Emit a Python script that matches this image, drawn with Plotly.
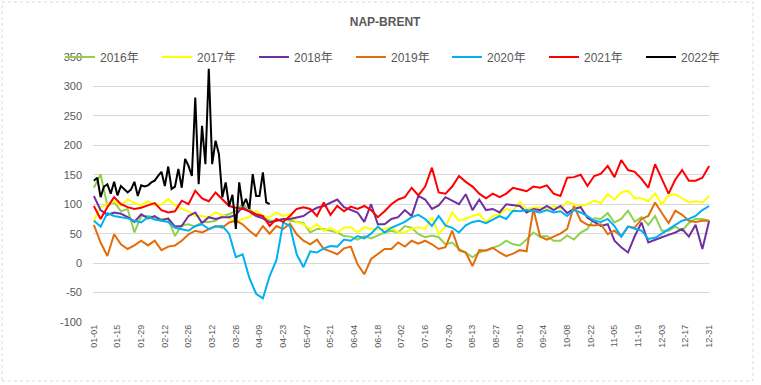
import pandas as pd
import plotly.graph_objects as go

# ---------------- data ----------------
# x positions: month-day sampled every 4 days (day 0 .. 364), shown on a non-leap calendar
DATES_4D = pd.date_range("2021-01-01", "2021-12-31", freq="4D")
# 2022 sampled every 2 days (only to mid-April)
DATES_2022 = pd.date_range("2021-01-01", periods=53, freq="2D")

TICK_LABELS = ["01-01", "01-15", "01-29", "02-12", "02-26", "03-12", "03-26", "04-09", "04-23",
               "05-07", "05-21", "06-04", "06-18", "07-02", "07-16", "07-30", "08-13", "08-27",
               "09-10", "09-24", "10-08", "10-22", "11-05", "11-19", "12-03", "12-17", "12-31"]
Y_TICKS = [-100, -50, 0, 50, 100, 150, 200, 250, 300, 350]

Y2016 = [128, 151, 97, 104, 88, 92, 52, 80, 80, 78,
         75, 75, 46, 64, 66, 62, 70, 70, 72, 80,
         83, 89, 100, 92, 82, 78, 72, 72, 75, 72,
         70, 68, 52, 58, 58, 55, 52, 46, 45, 40,
         46, 42, 47, 52, 55, 52, 63, 60, 49, 44,
         47, 44, 32, 35, 24, 18, 10, 18, 22, 26,
         30, 38, 32, 30, 40, 52, 45, 46, 38, 38,
         47, 40, 52, 58, 76, 75, 85, 69, 75, 89,
         70, 78, 65, 80, 55, 55, 62, 55, 68, 75,
         75, 72]
Y2017 = [72, 95, 100, 105, 98, 108, 102, 98, 105, 98,
         100, 109, 98, 92, 88, 80, 80, 78, 86, 82,
         77, 69, 75, 78, 89, 80, 78, 86, 80, 83,
         69, 66, 58, 66, 55, 60, 52, 60, 61, 52,
         61, 58, 57, 58, 61, 52, 52, 58, 61, 58,
         78, 50, 62, 86, 72, 75, 80, 83, 70, 80,
         83, 92, 88, 104, 92, 94, 95, 92, 97, 92,
         104, 100, 97, 100, 106, 102, 117, 108, 120, 123,
         110, 110, 105, 118, 100, 115, 117, 110, 103, 105,
         103, 114]
Y2018 = [114, 90, 82, 86, 84, 78, 70, 83, 76, 80,
         72, 76, 62, 63, 80, 86, 68, 78, 75, 78,
         78, 82, 95, 88, 80, 76, 69, 72, 75, 75,
         78, 80, 88, 94, 97, 103, 108, 95, 90, 86,
         70, 100, 66, 66, 75, 78, 90, 80, 114, 108,
         92, 98, 112, 106, 100, 117, 90, 108, 90, 92,
         86, 100, 98, 97, 86, 92, 90, 97, 90, 97,
         85, 92, 95, 77, 70, 63, 66, 38, 27, 18,
         46, 69, 35, 40, 44, 48, 52, 58, 45, 65,
         24, 72]
Y2019 = [65, 35, 12, 49, 32, 24, 30, 38, 30, 38,
         22, 28, 30, 38, 49, 55, 52, 58, 63, 60,
         69, 72, 66, 55, 46, 63, 50, 63, 58, 67,
         49, 38, 32, 40, 24, 20, 15, 25, 28, -2,
         -19, 7, 15, 24, 24, 35, 28, 38, 33, 38,
         32, 24, 27, 55, 22, 18, -5, 22, 21, 26,
         18, 12, 16, 22, 20, 92, 45, 40, 45, 50,
         58, 97, 72, 65, 64, 66, 49, 55, 45, 62,
         60, 75, 80, 103, 85, 68, 89, 82, 72, 70,
         72, 72]
Y2020 = [72, 62, 85, 80, 78, 76, 72, 69, 78, 74,
         72, 70, 60, 58, 55, 63, 66, 58, 62, 63,
         50, 10, 15, -25, -52, -60, -22, 5, 69, 63,
         15, -7, 20, 18, 25, 29, 28, 40, 38, 46,
         42, 50, 62, 52, 60, 65, 70, 78, 82, 75,
         63, 80, 64, 60, 52, 64, 70, 72, 68, 74,
         80, 75, 89, 88, 90, 88, 86, 90, 86, 88,
         80, 90, 86, 80, 72, 70, 75, 63, 45, 62,
         58, 55, 41, 43, 50, 58, 65, 72, 75, 80,
         90, 97]
Y2021 = [97, 75, 95, 112, 100, 95, 92, 94, 98, 102,
         90, 86, 88, 106, 100, 123, 110, 105, 120, 108,
         97, 94, 92, 88, 83, 80, 63, 75, 70, 80,
         92, 95, 92, 80, 103, 82, 97, 88, 96, 92,
         97, 90, 78, 88, 100, 108, 112, 128, 115, 130,
         162, 120, 118, 130, 148, 138, 130, 118, 110, 118,
         112, 118, 128, 125, 122, 130, 128, 132, 118, 114,
         145, 146, 150, 131, 148, 152, 165, 146, 175, 158,
         155, 143, 128, 168, 143, 118, 142, 158, 140, 140,
         145, 165]
Y2022 = [140, 145, 112, 130, 134, 118, 138, 115, 131, 125,
         120, 125, 138, 114, 132, 130, 132, 137, 140, 148,
         155, 131, 164, 126, 130, 160, 128, 177, 165, 148,
         281, 134, 233, 168, 330, 168, 208, 185, 112, 137,
         97, 116, 58, 137, 97, 109, 92, 151, 114, 114,
         154, 103, 100]

SERIES = [
    ("2016年", Y2016, DATES_4D, "#92D050", "legend"),
    ("2017年", Y2017, DATES_4D, "#FFFF00", "legend"),
    ("2018年", Y2018, DATES_4D, "#7030A0", "legend"),
    ("2019年", Y2019, DATES_4D, "#E46C0A", "legend"),
    ("2020年", Y2020, DATES_4D, "#00B0F0", "legend2"),
    ("2021年", Y2021, DATES_4D, "#FF0000", "legend2"),
    ("2022年", Y2022, DATES_2022, "#000000", "legend2"),
]

# ---------------- figure ----------------
FONT = "Liberation Sans, Arial, Noto Sans CJK SC, sans-serif"
GRID = "#D9D9D9"
TXT = "#595959"

fig = go.Figure()
for name, ys, xs, color, lg in SERIES:
    fig.add_trace(go.Scatter(x=xs, y=ys, name=name, mode="lines", legend=lg,
                             line=dict(color=color, width=2)))

tickvals = ["2021-" + t for t in TICK_LABELS]
xrange = ["2020-12-31 12:00", "2021-12-31 12:00"]

legend_common = dict(orientation="h", xref="container", yref="container",
                     y=1 - 57 / 385, xanchor="left", yanchor="middle",
                     bgcolor="rgba(0,0,0,0)", font=dict(size=12, color=TXT),
                     entrywidth=52, entrywidthmode="pixels", traceorder="normal")

fig.update_layout(
    width=761, height=385,
    margin=dict(l=93, r=51, t=57, b=63, autoexpand=False),
    paper_bgcolor="white", plot_bgcolor="white",
    font=dict(family=FONT, color=TXT),
    title=dict(text="<b>NAP-BRENT</b>", x=0.506, xref="container", xanchor="center",
               y=1 - 22 / 385, yref="container", yanchor="middle",
               font=dict(size=12, color=TXT)),
    showlegend=True,
    legend=dict(x=60 / 761, **legend_common),
    legend2=dict(x=447 / 761, **legend_common),
    xaxis=dict(type="date", range=xrange, tickmode="array", tickvals=tickvals,
               ticktext=TICK_LABELS, tickangle=-90, showgrid=False, zeroline=False,
               showline=False, ticks="", tickfont=dict(size=9, color=TXT)),
    xaxis2=dict(type="date", range=xrange, overlaying="x", anchor="free",
                position=100 / 450, tickmode="array", tickvals=tickvals,
                showticklabels=False, ticks="outside", ticklen=4, tickcolor=GRID,
                showline=True, linecolor=GRID, linewidth=1, showgrid=False, zeroline=False),
    yaxis=dict(range=[-100, 350], tickmode="array", tickvals=Y_TICKS,
               ticktext=[str(v) for v in Y_TICKS], showgrid=True,
               gridcolor=GRID, gridwidth=1, zeroline=False, showline=False,
               ticks="", ticklabelstandoff=10, tickfont=dict(size=11, color=TXT)),
    shapes=[dict(type="rect", xref="paper", yref="paper",
                 x0=(2 - 93) / 617, x1=(753 - 93) / 617,
                 y0=(322 - 381) / 265, y1=(322 - 2) / 265,
                 line=dict(color=GRID, width=1, dash="dot"), fillcolor="rgba(0,0,0,0)",
                 layer="below")],
)

fig.write_html("out.html", config={"displayModeBar": False},
               post_script="document.body.style.margin='0';")
